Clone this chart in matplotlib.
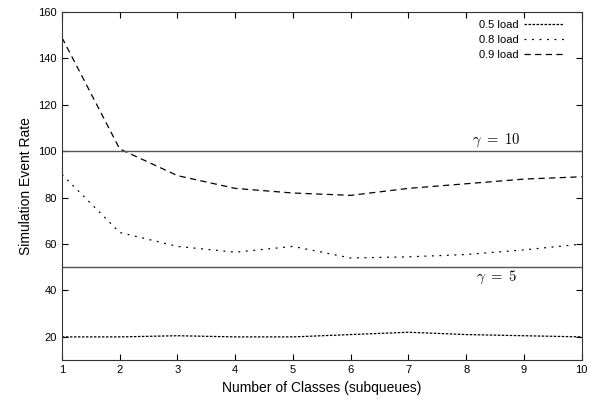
import matplotlib.pyplot as plt

plt.rcParams["mathtext.fontset"] = "cm"
plt.rcParams["font.family"] = ["Liberation Sans", "DejaVu Sans"]

classes = [1, 2, 3, 4, 5, 6, 7, 8, 9, 10]
load_05 = [20, 20, 20.5, 20, 20, 21, 22, 21, 20.5, 20]
load_08 = [90, 65, 59, 56.5, 59, 54, 54.5, 55.5, 57.5, 60]
load_09 = [149, 101, 89.5, 84, 82, 81, 84, 86, 88, 89]
gamma_levels = [100, 50]
gamma_labels = [r"$\gamma\ =\ 10$", r"$\gamma\ =\ 5$"]


def main():
    fig = plt.figure(figsize=(5.9, 4.01), dpi=100)
    ax = fig.add_axes([0.105, 0.102, 0.881, 0.868])

    ax.plot(classes, load_05, color="black", lw=0.9, linestyle=(0, (2, 1.2)), label="0.5 load")
    ax.plot(classes, load_08, color="black", lw=0.9, linestyle=(0, (1.5, 4.5)), label="0.8 load")
    ax.plot(classes, load_09, color="black", lw=0.9, linestyle=(0, (5, 3.5)), label="0.9 load")

    for lvl in gamma_levels:
        ax.axhline(lvl, color="#555555", lw=1.0)
    ax.text(8.52, gamma_levels[0] + 1.0, gamma_labels[0], fontsize=10.5, ha="center", va="bottom")
    ax.text(8.52, gamma_levels[1] - 0.5, gamma_labels[1], fontsize=10.5, ha="center", va="top")

    ax.set_xlim(1, 10)
    ax.set_ylim(10, 160)
    ax.set_xticks(classes)
    ax.set_yticks(range(20, 161, 20))
    ax.tick_params(direction="in", top=True, right=True, labelsize=8, length=4)
    for s in ax.spines.values():
        s.set_color("#333333")
    ax.set_xlabel("Number of Classes (subqueues)", fontsize=10)
    ax.set_ylabel("Simulation Event Rate", fontsize=10)

    ax.legend(loc="upper right", frameon=False, markerfirst=False, fontsize=8,
              handlelength=3.6, labelspacing=0.45, handletextpad=0.5,
              bbox_to_anchor=(0.985, 1.005))

    fig.savefig("out.png", dpi=100)


if __name__ == "__main__":
    main()
